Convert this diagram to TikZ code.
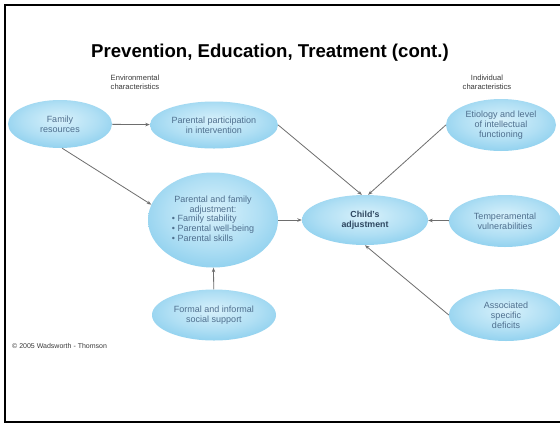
\documentclass[tikz,border=0pt]{standalone}
\usepackage{fontspec}
\setmainfont{Liberation Sans}
\usetikzlibrary{shapes.geometric,arrows.meta}

\definecolor{bubA}{HTML}{D8F1FB}
\definecolor{bubB}{HTML}{B0DFF4}
\definecolor{bubC}{HTML}{58B8E5}
\definecolor{bubtext}{HTML}{4F6F8E}
\definecolor{keytext}{HTML}{2E4760}
\definecolor{linkgray}{HTML}{6E6E6E}
\definecolor{headgray}{HTML}{3A3A3A}

% soft blue bubble, lighter in the middle
\pgfdeclareradialshading{bubble}{\pgfpoint{0bp}{5bp}}{%
  color(0bp)=(bubA); color(18bp)=(bubB); color(48bp)=(bubC); color(70bp)=(bubC)}

\tikzset{
  bubblenode/.style={ellipse, shading=bubble, draw=none, inner sep=0pt,
    align=center, text=bubtext, font=\fontsize{9}{10}\selectfont},
  link/.style={draw=linkgray, line width=0.8pt,
    -{Stealth[length=4.5pt,width=3.5pt]}},
  header/.style={align=center, text=headgray, font=\fontsize{7.6}{9}\selectfont},
  frameline/.style={line width=2pt, black}
}

\begin{document}
\begin{tikzpicture}[x=1pt,y=-1pt]
\useasboundingbox (0,0) rectangle (560,424);
\fill[white] (0,0) rectangle (560,424);

% slide frame
\draw[frameline] (5.3,5) -- (560,5);
\draw[frameline] (5.3,4) -- (5.3,422.3);
\draw[frameline] (4.3,422.3) -- (560,422.3);

% title and column headings
\node[font=\bfseries\fontsize{18.6}{21}\selectfont] (title) at (270,53)
  {Prevention, Education, Treatment (cont.)};
\node[header] (envhead) at (135,82) {Environmental\\characteristics};
\node[header] (indhead) at (487,82) {Individual\\characteristics};

% environmental side
\node[bubblenode, minimum width=104pt, minimum height=48pt] (fam) at (60,124)
  {Family\\resources};
\node[bubblenode, minimum width=128pt, minimum height=47pt] (part) at (214,125)
  {Parental participation\\in intervention};
\node[bubblenode, minimum width=130pt, minimum height=95pt] (adj) at (213,220)
  {Parental and family\\adjustment:\\[-1pt]%
   \begin{tabular}{@{}l@{}}\textbullet\ Family stability\\
   \textbullet\ Parental well-being\\ \textbullet\ Parental skills\end{tabular}};
\node[bubblenode, minimum width=124pt, minimum height=51pt] (form) at (214,315)
  {Formal and informal\\social support};

% the child
\node[bubblenode, minimum width=126pt, minimum height=50pt, text=keytext,
  font=\bfseries\fontsize{8.8}{10.5}\selectfont] (child) at (365,220)
  {Child's\\adjustment};

% individual side
\node[bubblenode, minimum width=110pt, minimum height=52pt] (etio) at (501,125)
  {Etiology and level\\of intellectual\\functioning};
\node[bubblenode, minimum width=112pt, minimum height=52pt] (temp) at (505,221)
  {Temperamental\\vulnerabilities};
\node[bubblenode, minimum width=114pt, minimum height=52pt] (assoc) at (506,315)
  {Associated\\specific\\deficits};

% influences
\draw[link] (fam) -- (part);
\draw[link] (fam.-85) -- (adj.166);
\draw[link] (part.east) -- (child.97);
\draw[link] (etio.west) -- (child.83);
\draw[link] (adj) -- (child);
\draw[link] (temp) -- (child);
\draw[link] (form) -- (adj);
\draw[link] (assoc.west) -- (child.-90);

% credit line
\node[anchor=west, text=headgray, font=\fontsize{7}{8}\selectfont, inner sep=0pt]
  (credit) at (12,346) {© 2005 Wadsworth - Thomson};
\end{tikzpicture}
\end{document}
